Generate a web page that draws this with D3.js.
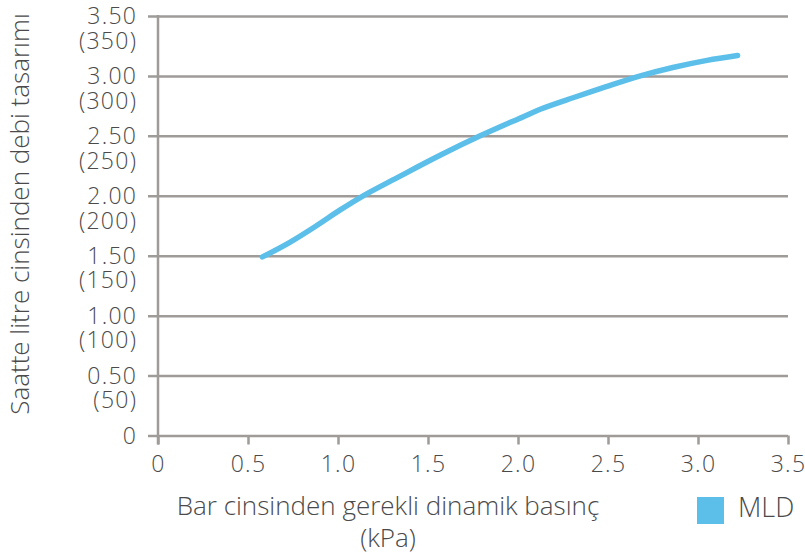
<!DOCTYPE html>
<html>
<head>
<meta charset="utf-8">
<script src="https://cdn.jsdelivr.net/npm/d3@7"></script>
<style>
  html, body { margin: 0; padding: 0; background: #fff; }
  svg { display: block; }
  text { font-family: "Open Sans", "Noto Sans", sans-serif; font-weight: 300; fill: #4a4a4a; }
</style>
</head>
<body>
<svg id="chart" width="805" height="554"></svg>
<script>
// Flow vs. dynamic pressure curve for the MLD series
const pressure = [0.58, 0.73, 0.88, 1.01, 1.14, 1.34, 1.57, 1.79, 2.03, 2.12, 2.31, 2.49, 2.68, 2.86, 3.05, 3.22];
const flow     = [1.49, 1.61, 1.75, 1.88, 2.00, 2.16, 2.34, 2.50, 2.66, 2.72, 2.82, 2.91, 3.00, 3.07, 3.13, 3.17];

const xTicks = [0, 0.5, 1.0, 1.5, 2.0, 2.5, 3.0, 3.5];
const xTickLabels = ["0", "0.5", "1.0", "1.5", "2.0", "2.5", "3.0", "3.5"];
const yTicks = [0, 0.5, 1.0, 1.5, 2.0, 2.5, 3.0, 3.5];
const yTickLabels = ["0", "0.50", "1.00", "1.50", "2.00", "2.50", "3.00", "3.50"];
const yTickSubLabels = ["", "(50)", "(100)", "(150)", "(200)", "(250)", "(300)", "(350)"];

const seriesName = "MLD";
const xTitle = ["Bar cinsinden gerekli dinamik basınç", "(kPa)"];
const yTitle = "Saatte litre cinsinden debi tasarımı";

const lineColor = "#5cbfea";
const gridColor = "#9e9b98";
const textColor = "#4a4a4a";
const tickFs = 23;
const tickSpacing = 1.3;
const titleFs = 26;

const svg = d3.select("#chart");
const margin = { left: 158, right: 17, top: 16, bottom: 118 };
const W = 805, H = 554;

const x = d3.scaleLinear().domain([0, 3.5]).range([margin.left, W - margin.right]);
const y = d3.scaleLinear().domain([0, 3.5]).range([H - margin.bottom - 0.5, margin.top]);

// horizontal grid with outward ticks on the left
const yAxis = d3.axisLeft(y)
  .tickValues(yTicks)
  .tickSize(-(x.range()[1] - x.range()[0]))
  .tickFormat("");
const gy = svg.append("g")
  .attr("transform", `translate(${margin.left},0)`)
  .call(yAxis);
gy.select(".domain").remove();
gy.selectAll(".tick line")
  .attr("x1", -10)
  .attr("stroke", gridColor)
  .attr("stroke-width", 2.5);

// y tick labels: two lines (value and value x100)
const yl = svg.append("g");
const labelX = 136 + tickSpacing;
yTicks.forEach((v, i) => {
  const t = yl.append("text")
    .attr("x", labelX)
    .attr("y", y(v))
    .attr("text-anchor", "end")
    .attr("letter-spacing", tickSpacing)
    .attr("font-size", tickFs);
  t.append("tspan").attr("x", labelX).attr("dy", "0.36em").text(yTickLabels[i]);
  if (yTickSubLabels[i]) {
    t.append("tspan").attr("x", labelX).attr("dy", 24.5).text(yTickSubLabels[i]);
  }
});

// x axis ticks (downward) and labels
const xAxis = d3.axisBottom(x)
  .tickValues(xTicks)
  .tickSize(9)
  .tickFormat((d, i) => xTickLabels[i]);
const gx = svg.append("g")
  .attr("transform", `translate(0,${y(0)})`)
  .call(xAxis);
gx.select(".domain").remove();
gx.selectAll(".tick line").attr("stroke", gridColor).attr("stroke-width", 2.5);
gx.selectAll(".tick text")
  .attr("y", 20)
  .attr("dy", "0.72em")
  .attr("font-size", tickFs)
  .attr("letter-spacing", tickSpacing)
  .attr("font-family", "'Open Sans', sans-serif")
  .attr("font-weight", 300)
  .attr("fill", textColor);

// vertical axis line
svg.append("line")
  .attr("x1", x(0)).attr("x2", x(0))
  .attr("y1", y(3.5) - 1).attr("y2", y(0) + 9)
  .attr("stroke", gridColor)
  .attr("stroke-width", 2.5);

// data line
const pts = pressure.map((p, i) => [p, flow[i]]);
svg.append("path")
  .datum(pts)
  .attr("fill", "none")
  .attr("stroke", lineColor)
  .attr("stroke-width", 5.5)
  .attr("stroke-linecap", "round")
  .attr("stroke-linejoin", "round")
  .attr("d", d3.line().x(d => x(d[0])).y(d => y(d[1])).curve(d3.curveCatmullRom));

// axis titles
svg.append("text")
  .attr("x", 388).attr("y", 515)
  .attr("text-anchor", "middle")
  .attr("font-size", titleFs)
  .text(xTitle[0]);
svg.append("text")
  .attr("x", 388).attr("y", 547)
  .attr("text-anchor", "middle")
  .attr("font-size", titleFs)
  .text(xTitle[1]);

svg.append("text")
  .attr("transform", "translate(29,214) rotate(-90)")
  .attr("text-anchor", "middle")
  .attr("font-size", titleFs)
  .text(yTitle);

// legend
svg.append("rect")
  .attr("x", 697).attr("y", 497)
  .attr("width", 27).attr("height", 27)
  .attr("fill", lineColor);
svg.append("text")
  .attr("x", 738).attr("y", 517)
  .attr("font-size", 27)
  .text(seriesName);
</script>
</body>
</html>
